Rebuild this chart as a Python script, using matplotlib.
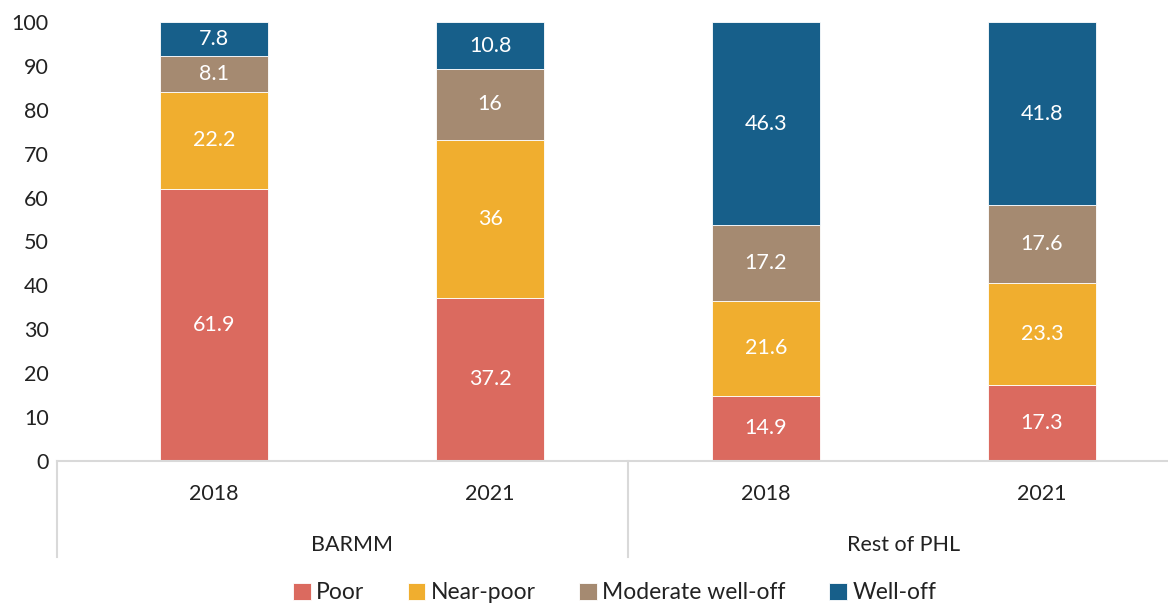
import matplotlib.pyplot as plt
import numpy as np

plt.rcParams['font.family'] = ['Lato', 'DejaVu Sans']

years = ['2018', '2021', '2018', '2021']
regions = ['BARMM', 'Rest of PHL']
series = ['Poor', 'Near-poor', 'Moderate well-off', 'Well-off']
poor = [61.9, 37.2, 14.9, 17.3]
near_poor = [22.2, 36, 21.6, 23.3]
moderate = [8.1, 16, 17.2, 17.6]
well_off = [7.8, 10.8, 46.3, 41.8]
colors = ['#DB6A5F', '#F0AE2F', '#A58A71', '#175F8A']
txt = '#222222'

fig = plt.figure(figsize=(11.68, 6.06), dpi=100)
ax = fig.add_axes([0.049, 0.239, 0.951, 0.725])

x = np.arange(len(years))
bottom = np.zeros(len(years))
for name, vals, c in zip(series, [poor, near_poor, moderate, well_off], colors):
    bars = ax.bar(x, vals, 0.39, bottom=bottom, color=c, label=name,
                  edgecolor='white', linewidth=0.6)
    for b, v, y0 in zip(bars, vals, bottom):
        ax.text(b.get_x() + b.get_width() / 2, y0 + v / 2, f'{v:g}',
                ha='center', va='center', color='white', fontsize=15.5)
    bottom += np.array(vals)

ax.set_xlim(-0.569, 3.457)
ax.set_ylim(0, 100)
ax.set_yticks(range(0, 101, 10))
ax.tick_params(axis='y', length=0, labelsize=15.5, pad=6, labelcolor=txt)
ax.set_xticks([])
for s in ['top', 'right', 'left']:
    ax.spines[s].set_visible(False)
ax.spines['bottom'].set_color('#d9d9d9')
ax.spines['bottom'].set_linewidth(1.5)

# two-level category axis: years, then region groups with separators
xt = ax.get_xaxis_transform()
for xi, yr in zip(x, years):
    ax.text(xi, -0.075, yr, transform=xt, ha='center', va='center',
            fontsize=15.5, color=txt)
for xg, reg in zip([0.5, 2.5], regions):
    ax.text(xg, -0.19, reg, transform=xt, ha='center', va='center',
            fontsize=15.5, color=txt)
for xs in [-0.569, 1.5]:
    ax.plot([xs, xs], [0, -0.219], transform=xt, color='#d9d9d9',
            lw=1.5, clip_on=False)

ax.legend(loc='center', bbox_to_anchor=(0.502, -0.30), ncol=4,
          frameon=False, fontsize=16.5, handlelength=0.75,
          handleheight=0.75, handletextpad=0.25, columnspacing=1.9,
          labelcolor=txt)

fig.savefig('out.png', dpi=100)
